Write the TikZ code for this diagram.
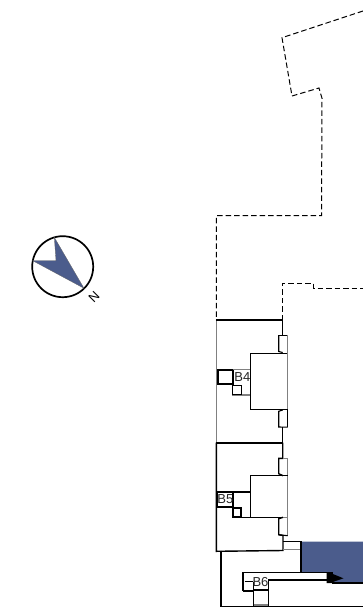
\documentclass[tikz,border=0pt]{standalone}
\usepackage{fontspec}
\setmainfont{Liberation Sans}
\definecolor{bluefill}{HTML}{4B5C8C}
\definecolor{wallgray}{HTML}{808080}
\tikzset{
  thinw/.style={draw=black,line width=1.1pt},
  wall/.style={draw=black,line width=1.4pt},
  thickw/.style={draw=black,line width=1.9pt},
  grayw/.style={draw=wallgray,line width=1.4pt},
  boundary/.style={draw=black,line width=1pt,dash pattern=on 5.5pt off 3pt},
  label/.style={font=\fontsize{13}{13}\selectfont,inner sep=0pt,text=black!85}
}
\begin{document}
\begin{tikzpicture}[x=1pt,y=-1pt]
\useasboundingbox (0,0) rectangle (363,607);
% compass
\coordinate (cc) at (62.7,266.7);
\draw[line width=1.7pt] (cc) circle[radius=30.5pt];
\fill[bluefill,draw=black!60,line width=0.3pt] (54.3,237.3) -- (56,260.7) -- (32.7,260.7) -- (84,288.3) -- cycle;
\node[font=\fontsize{13}{13}\selectfont,rotate=45,inner sep=0pt] (north) at (94,297) {N};
% site boundary
\draw[boundary] (363,11) -- (282,37.7) -- (292,96) -- (319,88) -- (322,98.3) -- (321.5,215.5) -- (216.3,215.5) -- (216.3,320);
\draw[boundary] (282.6,320) -- (282.6,283.3) -- (313.7,283.3) -- (313.7,288) -- (363,288);
% blue area
\fill[bluefill] (301,541.5) -- (363,541.5) -- (363,583) -- (332,583) -- (332,572.5) -- (301,572.5) -- cycle;
% B4
\draw[grayw] (216.5,320) -- (216.5,443);
\draw[wall] (216.3,320) -- (282.7,320) -- (282.7,335.2);
\draw[thinw] (278.7,335.2) -- (287.7,335.2);
\draw[thinw] (278.7,335.2) -- (278.7,351.5) -- (282.7,352.5);
\draw[grayw] (287.7,335.2) -- (287.7,353);
\draw[thinw] (287.7,353.3) -- (250.3,353.3) -- (250.3,409.3) -- (287.7,409.3);
\draw[grayw] (287.7,353) -- (287.7,409);
\draw[thinw] (282.7,410) -- (278.7,411.3) -- (278.7,427) -- (287.7,427.2);
\draw[thinw] (287.7,409.3) -- (287.7,427.2);
\draw[wall] (282.7,427) -- (282.7,442.7);
\draw[thickw] (218,370) rectangle (233.3,383.7);
\draw[grayw] (233.3,369.4) -- (250.3,369.4);
\draw[grayw] (232.3,395) -- (250.3,395);
\draw[wall] (232.7,385.3) rectangle (241.7,394.3);
\node[label] (b4) at (242.3,377.3) {B4};
% B5
\draw[thickw] (216,442.7) -- (282.9,442.7);
\draw[wall] (216.3,442.7) -- (216.3,551.3) -- (283,550.5) -- (283,535.5);
\draw[wall] (282.7,442.7) -- (282.7,458.3) -- (278.7,458.3) -- (278.7,473.7) -- (283,475.7);
\draw[grayw] (282.7,458.3) -- (287.7,458.3) -- (287.7,517.3);
\draw[wall] (287.7,475.7) -- (250.3,475.7) -- (250.3,517.3) -- (283,517.3);
\draw[grayw] (283,517.3) -- (287.7,517.3) -- (287.7,535.7);
\draw[wall] (283,517.3) -- (278.7,518.7) -- (278.7,534.7) -- (283,535.5);
\draw[thinw] (278.7,534.7) -- (287.7,535.7);
\draw[thickw] (217.3,492) rectangle (233.3,506.7);
\draw[thickw] (233.3,492) -- (250.3,492);
\draw[thickw] (233.3,507.7) rectangle (241.3,517.3);
\draw[wall] (233.3,517.3) -- (250.3,517.3);
\node[label] (b5) at (225.3,499) {B5};
% link
\draw[thinw] (283,541.3) -- (301,541.3);
\draw[grayw] (283,549.3) -- (301,549.3);
\draw[thinw] (301,541.3) -- (301,572.5);
% B6
\draw[wall] (221,550.7) -- (221,606.2) -- (363,606.2);
\draw[wall] (243,591) -- (243,572.7) -- (332.7,572.7);
\draw[thickw] (243,591) -- (253.3,591);
\draw[thinw] (244.7,581.7) -- (253.3,581.7);
\draw[wall] (253.5,581.7) -- (253.5,606);
\draw[wall] (268.3,606) -- (268.3,580) -- (327,580);
\draw[wall] (253.3,590) -- (268.3,590);
\draw[draw=wallgray,line width=1.8pt] (253.5,605.3) -- (268.3,605.3);
\node[label] (b6) at (260.5,581.7) {B6};
\fill[black] (326.7,572.3) -- (332.8,572.3) -- (332.8,574) -- (343.5,578.3) -- (332.8,582) -- (332.8,583) -- (326.7,583) -- cycle;
\draw[wall] (332,583) -- (363,583);
\end{tikzpicture}
\end{document}
